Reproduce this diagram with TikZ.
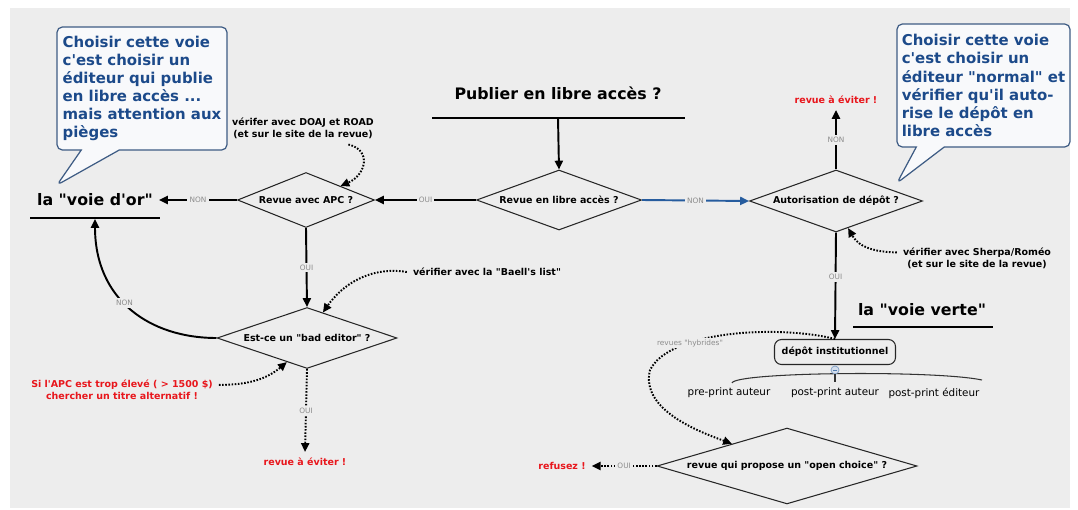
\documentclass[tikz,border=0pt]{standalone}
\usepackage{fontspec}
\setmainfont{DejaVu Sans}[Ligatures=TeXOff]
\usetikzlibrary{shapes.geometric,shapes.callouts,arrows.meta}

\definecolor{fond}{RGB}{237,237,237}
\definecolor{bullefond}{RGB}{248,249,251}
\definecolor{encre}{RGB}{28,74,138}
\definecolor{cadre}{RGB}{62,92,132}
\definecolor{alerte}{RGB}{232,22,28}
\definecolor{lien}{RGB}{38,92,158}

\newcommand\petit{\fontsize{5.4}{6.7}\selectfont\bfseries}
\newcommand\grand{\fontsize{9}{11}\selectfont\bfseries}
\newcommand\etiq{\fontsize{4.2}{5}\selectfont}
\newcommand\feuille{\fontsize{5.9}{7}\selectfont}
\newcommand\bulletxt{\fontsize{8.5}{10.3}\selectfont\bfseries}

\begin{document}
\begin{tikzpicture}[x=0.02cm,y=-0.02cm]
  \tikzstyle{decision}=[diamond,aspect=3,draw=black!85,line width=0.6pt,inner sep=0pt,font=\petit]
  \tikzstyle{fleche}=[draw=black,line width=1.1pt,-{Triangle[length=5pt,width=4.6pt]}]
  \tikzstyle{pointille}=[fleche,dash pattern=on 0.9pt off 0.9pt]
  \tikzstyle{choix}=[fill=fond,inner sep=1.2pt,text=black!45,font=\etiq]
  \tikzstyle{note}=[align=center,font=\petit]
  \tikzstyle{danger}=[note,text=alerte]
  \tikzstyle{voie}=[font=\grand]
  \tikzstyle{regle}=[draw=black,line width=0.9pt]
  \tikzstyle{bulle}=[rectangle callout,rounded corners=3pt,draw=cadre,line width=0.7pt,fill=bullefond,text=encre,align=left,font=\bulletxt,inner sep=0pt,minimum height=2.46cm]

  \useasboundingbox (0,0) rectangle (1078,510);
  \fill[white] (0,0) rectangle (1078,510);
  \fill[fond] (10,8) rectangle (1070,508);

  % question de depart
  \node[voie] (titre) at (558,93) {Publier en libre accès ?};
  \draw[regle] (432,118) -- (685,118);
  \coordinate (titrebas) at (558,118);
  \node[decision,minimum width=3.3cm,minimum height=1.2cm] (libre) at (559,200) {Revue en libre accès ?};

  % voie d'or
  \node[decision,minimum width=2.74cm,minimum height=1.1cm] (apc) at (306,200) {Revue avec APC ?};
  \node[decision,minimum width=3.6cm,minimum height=1.22cm] (bad) at (307,338) {Est-ce un "bad editor" ?};
  \node[voie] (or) at (95,200) {la "voie d'or"};
  \draw[regle] (30,218) -- (160,218);
  \coordinate (orbas) at (95,219);
  \node[note] (doaj) at (303,128) {vérifer avec DOAJ et ROAD\\(et sur le site de la revue)};
  \node[note] (baell) at (487,272) {vérifier avec la "Baell's list"};
  \node[danger] (cout) at (122,390) {Si l'APC est trop élevé ( > 1500 \$)\\chercher un titre alternatif !};
  \node[danger] (evite2) at (305,462) {revue à éviter !};

  % voie verte
  \node[decision,minimum width=3.46cm,minimum height=1.24cm] (aut) at (836,201) {Autorisation de dépôt ?};
  \node[danger] (evite1) at (836,100) {revue à éviter !};
  \node[note] (sherpa) at (977,258) {vérifier avec Sherpa/Roméo\\(et sur le site de la revue)};
  \node[voie] (verte) at (922,310) {la "voie verte"};
  \draw[regle] (853,327) -- (993,327);
  \node[draw=black!85,line width=0.6pt,rounded corners=4pt,fill=fond,font=\petit,minimum width=2.42cm,minimum height=0.5cm] (depot) at (835,352) {dépôt institutionnel};
  \node[font=\feuille] (pre) at (729,393) {pre-print auteur};
  \node[font=\feuille] (postA) at (835,393) {post-print auteur};
  \node[font=\feuille] (postE) at (934,393) {post-print éditeur};
  \coordinate (accg) at (732,383);
  \coordinate (accd) at (982,380);
  \draw[black!80,line width=0.6pt] (accg) .. controls (735,372) and (935,370) .. (accd);
  \node[circle,draw=lien!60,fill=lien!20,inner sep=0pt,minimum size=0.16cm] (pli) at (835,370) {};
  \draw[lien!80,line width=0.4pt,shorten <=1.2pt,shorten >=1.2pt] (pli.west) -- (pli.east);
  \draw[black!80,line width=0.6pt] (pli.south) -- (postA.north);
  \node[decision,minimum width=5.2cm,minimum height=1.5cm] (choice) at (787,466) {revue qui propose un "open choice" ?};
  \node[danger] (refus) at (562,466) {refusez !};

  % bulles
  \node[bulle,minimum width=3.4cm,callout absolute pointer={(57,185)},callout pointer width=0.76cm] (bor) at (142,88.5) {Choisir cette voie\\c'est choisir un\\éditeur qui publie\\en libre accès ...\\mais attention aux\\pièges};
  \node[bulle,minimum width=3.46cm,callout absolute pointer={(897,183)},callout pointer width=0.56cm] (bverte) at (983.5,85.5) {Choisir cette voie\\c'est choisir un\\éditeur "normal" et\\vérifier qu'il auto-\\rise le dépôt en\\libre accès};

  % liens
  \draw[fleche] (titrebas) -- (libre.north);
  \draw[fleche] (libre.west) -- node[choix] {OUI} (apc.east);
  \draw[fleche] (apc.west) -- node[choix] {NON} (or.east);
  \draw[fleche] (apc.south) -- node[choix] {OUI} (bad.north);
  \draw[fleche] (bad.west) .. controls (150,338) and (95,300) .. node[choix,pos=0.55] {NON} (orbas);
  \draw[pointille] (bad.south) -- node[choix] {OUI} (evite2.north);
  \draw[pointille] (doaj.-20) .. controls (372,150) and (366,175) .. (apc.north east);
  \draw[pointille] (baell.west) .. controls (370,266) and (342,285) .. (bad.58);
  \draw[pointille] (cout.3) .. controls (250,385) and (268,378) .. (bad.230);
  \draw[fleche,draw=lien] (libre.east) -- node[choix] {NON} (aut.west);
  \draw[fleche] (aut.north) -- node[choix] {NON} (evite1.south);
  \draw[fleche] (aut.south) -- node[choix,pos=0.42] {OUI} (depot.north);
  \draw[pointille] (sherpa.176) .. controls (865,252) and (856,242) .. (aut.294);
  \draw[pointille] (depot.north) .. controls (780,325) and (670,330) .. (650,370) .. controls (640,410) and (700,432) .. (choice.158);
  \node[fill=fond,inner sep=1pt,text=black!45,font=\etiq] (hybr) at (690,343) {revues "hybrides"};
  \draw[pointille] (choice.west) -- node[choix] {OUI} (refus.east);
\end{tikzpicture}
\end{document}
